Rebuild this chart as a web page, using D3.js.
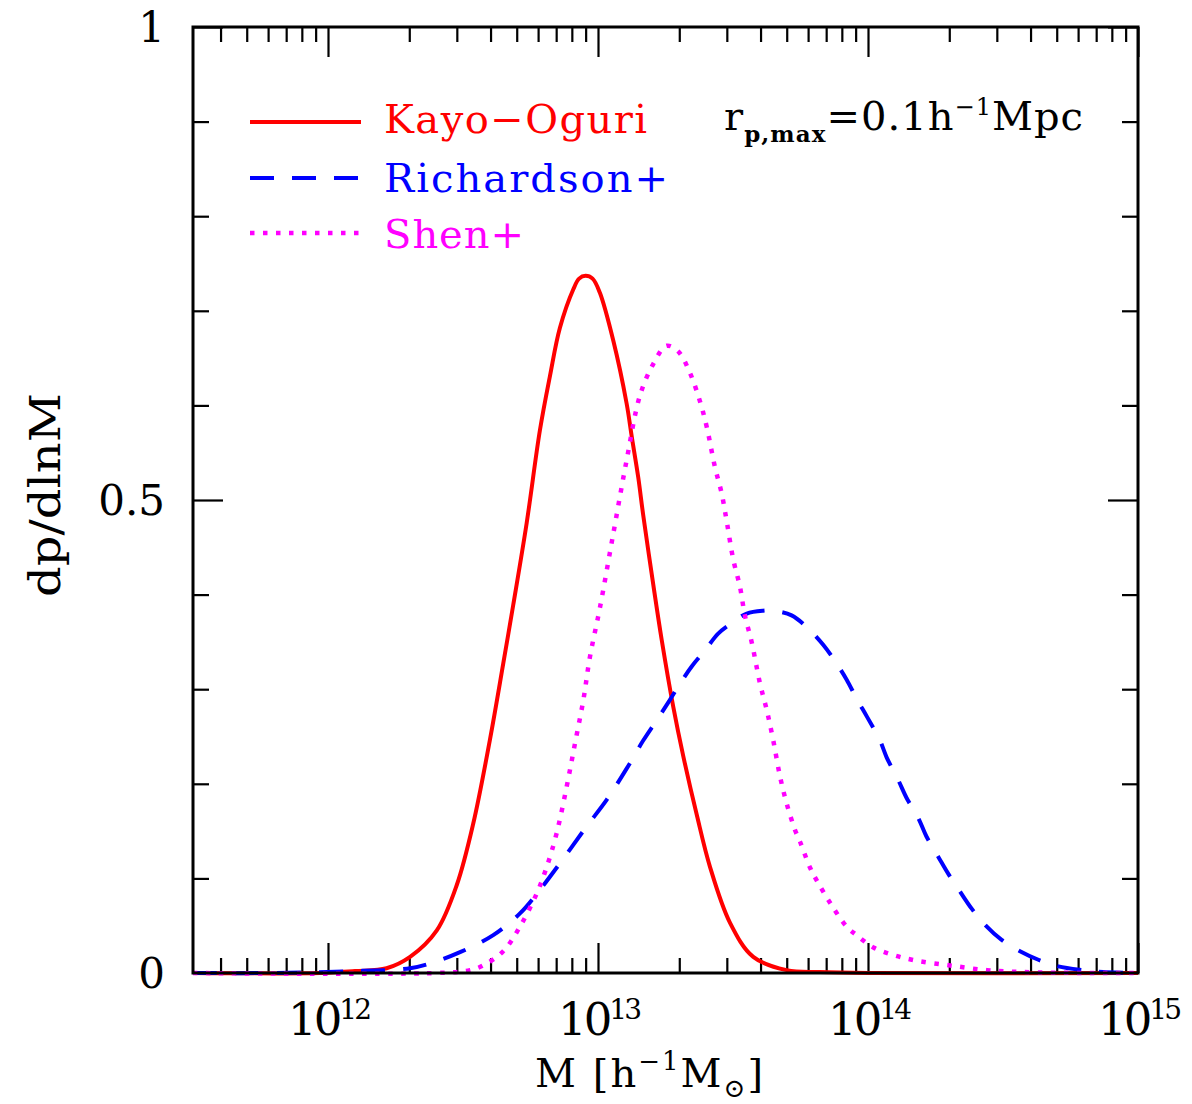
<!DOCTYPE html>
<html><head><meta charset="utf-8">
<script src="https://cdn.jsdelivr.net/npm/d3@7"></script>
<style>
html,body{margin:0;padding:0;background:#fff;}
svg text{font-family:"DejaVu Serif",serif;}
</style></head>
<body>
<svg id="c" width="1192" height="1104"></svg>
<script>
// ---- data (log10 of M [h^-1 Msun], dp/dlnM) ----
const kayoLogM = [11.5,11.97,12.10,12.217,12.304,12.403,12.477,12.538,12.600,12.649,12.686,12.736,12.785,12.822,12.859,12.909,12.93,12.954,12.98,13.007,13.057,13.106,13.125,13.149,13.167,13.205,13.236,13.279,13.316,13.366,13.415,13.489,13.575,13.699,13.822,14.0,15.0];
const kayoP    = [0,0.0,0.002,0.005,0.017,0.045,0.093,0.158,0.247,0.327,0.389,0.476,0.574,0.631,0.682,0.723,0.734,0.737,0.734,0.719,0.668,0.602,0.567,0.524,0.485,0.410,0.352,0.281,0.229,0.167,0.112,0.053,0.017,0.003,0.001,0,0];

const richLogM = [11.5,11.8,12.1,12.304,12.378,12.489,12.612,12.711,12.785,12.859,12.958,13.032,13.106,13.168,13.217,13.267,13.304,13.347,13.396,13.446,13.501,13.551,13.612,13.649,13.717,13.779,13.834,13.884,13.921,13.958,13.996,14.044,14.069,14.112,14.143,14.186,14.217,14.260,14.297,14.341,14.384,14.433,14.495,14.563,14.631,14.705,14.797,14.870,15.0];
const richP    = [0,0,0.002,0.005,0.010,0.022,0.040,0.063,0.088,0.116,0.155,0.183,0.216,0.246,0.267,0.289,0.306,0.324,0.341,0.359,0.371,0.380,0.383,0.383,0.378,0.364,0.347,0.327,0.310,0.290,0.271,0.246,0.228,0.204,0.185,0.164,0.144,0.123,0.105,0.086,0.068,0.051,0.035,0.023,0.014,0.007,0.003,0.001,0];

const shenLogM = [11.5,12.4,12.526,12.575,12.649,12.711,12.773,12.810,12.847,12.884,12.915,12.946,12.970,13.007,13.057,13.106,13.156,13.205,13.254,13.297,13.341,13.378,13.403,13.433,13.458,13.477,13.501,13.526,13.544,13.569,13.600,13.625,13.649,13.674,13.699,13.730,13.748,13.786,13.810,13.860,13.921,13.958,14.020,14.094,14.180,14.304,14.440,14.574,14.8,15.0];
const shenP    = [0,0,0.003,0.008,0.023,0.049,0.084,0.112,0.148,0.197,0.243,0.289,0.334,0.386,0.465,0.542,0.611,0.644,0.663,0.657,0.634,0.604,0.577,0.535,0.507,0.477,0.437,0.408,0.378,0.350,0.306,0.278,0.246,0.208,0.179,0.151,0.139,0.111,0.098,0.074,0.049,0.040,0.027,0.019,0.013,0.008,0.003,0.001,0,0];

const seriesNames  = ["Kayo\u2212Oguri","Richardson+","Shen+"];
const seriesColors = ["#ff0000","#0000ff","#ff00ff"];
const xMajorExps   = [12,13,14,15];
const yMajorVals   = [0,0.5,1];
const yMajorLabels = ["0","0.5","1"];

// ---- layout ----
const svg = d3.select("#c");
const L=193, R=1138, T=27, B=973;
const x = d3.scaleLog().domain([Math.pow(10,11.5),1e15]).range([L,R]);
const y = d3.scaleLinear().domain([0,1]).range([B,T]);

const xMajors = xMajorExps.map(e=>Math.pow(10,e));
const xMinors = [];
for (let e=11;e<15;e++) for (let m=2;m<=9;m++){const v=m*Math.pow(10,e); if(v>=x.domain()[0]&&v<=1e15) xMinors.push(v);}
const yMinors = d3.range(0,1.0001,0.1).map(v=>+v.toFixed(2)).filter(v=>!yMajorVals.includes(v));

function styleAxis(g){g.select(".domain").remove(); g.selectAll("line").attr("stroke","#000").attr("stroke-width",2.2); g.selectAll("text").remove();}
svg.append("g").attr("transform",`translate(0,${B})`).call(d3.axisBottom(x).tickValues(xMajors).tickSize(-30).tickFormat("")).call(styleAxis);
svg.append("g").attr("transform",`translate(0,${B})`).call(d3.axisBottom(x).tickValues(xMinors).tickSize(-15).tickFormat("")).call(styleAxis);
svg.append("g").attr("transform",`translate(0,${T})`).call(d3.axisTop(x).tickValues(xMajors).tickSize(-30).tickFormat("")).call(styleAxis);
svg.append("g").attr("transform",`translate(0,${T})`).call(d3.axisTop(x).tickValues(xMinors).tickSize(-15).tickFormat("")).call(styleAxis);
svg.append("g").attr("transform",`translate(${L},0)`).call(d3.axisLeft(y).tickValues(yMajorVals).tickSize(-30).tickFormat("")).call(styleAxis);
svg.append("g").attr("transform",`translate(${L},0)`).call(d3.axisLeft(y).tickValues(yMinors).tickSize(-16).tickFormat("")).call(styleAxis);
svg.append("g").attr("transform",`translate(${R},0)`).call(d3.axisRight(y).tickValues(yMajorVals).tickSize(-30).tickFormat("")).call(styleAxis);
svg.append("g").attr("transform",`translate(${R},0)`).call(d3.axisRight(y).tickValues(yMinors).tickSize(-16).tickFormat("")).call(styleAxis);

// curves
const line = d3.line().x(d=>x(Math.pow(10,d[0]))).y(d=>Math.min(B,y(d[1]))).curve(d3.curveCatmullRom.alpha(0.5));
const dashes = [null,"24,18","4.5,8.5"];
const data = [[kayoLogM,kayoP],[richLogM,richP],[shenLogM,shenP]];
data.forEach((s,i)=>{
  const pts = s[0].map((v,j)=>[v,s[1][j]]);
  svg.append("path").attr("d",line(pts)).attr("fill","none")
    .attr("stroke",seriesColors[i]).attr("stroke-width",i===2?4.5:4)
    .attr("stroke-dasharray",dashes[i]);
});

// frame
svg.append("rect").attr("x",L).attr("y",T).attr("width",R-L).attr("height",B-T)
  .attr("fill","none").attr("stroke","#000").attr("stroke-width",3);

// x tick labels
xMajorExps.forEach(e=>{
  const t = svg.append("text").attr("x",x(Math.pow(10,e))+2).attr("y",1035).attr("text-anchor","middle").attr("fill","#000")
    .attr("textLength",84).attr("lengthAdjust","spacing");
  t.append("tspan").attr("font-size",45).text("10");
  t.append("tspan").attr("font-size",28).attr("dy",-16).text(String(e));
});
// y tick labels
yMajorVals.forEach((v,i)=>{
  svg.append("text").attr("x",165).attr("y",y(v)).attr("dy","0.36em").attr("text-anchor","end")
    .attr("font-size",42).attr("fill","#000").text(yMajorLabels[i]);
});

// axis titles
const xt = svg.append("text").attr("x",535).attr("y",1087).attr("fill","#000").attr("font-size",40)
  .attr("textLength",228).attr("lengthAdjust","spacing");
xt.append("tspan").text("M [h");
xt.append("tspan").attr("font-size",26).attr("dy",-17).text("\u22121");
xt.append("tspan").attr("dy",17).text("M");
xt.append("tspan").attr("font-size",26).attr("dy",10).text("\u2299");
xt.append("tspan").attr("dy",-10).text("]");

svg.append("text").attr("transform","translate(60,495) rotate(-90)").attr("text-anchor","middle")
  .attr("font-size",42).attr("fill","#000").attr("textLength",204).attr("lengthAdjust","spacingAndGlyphs").text("dp/dlnM");

// legend
const legY = [122,178,233];
const legBase = [133,192,248];
const legLen = [263,284,140];
seriesNames.forEach((n,i)=>{
  svg.append("line").attr("x1",250).attr("x2",361).attr("y1",legY[i]).attr("y2",legY[i])
    .attr("stroke",seriesColors[i]).attr("stroke-width",i===2?4.5:4).attr("stroke-dasharray",dashes[i]);
  svg.append("text").attr("x",384).attr("y",legBase[i]).attr("font-size",40).attr("fill",seriesColors[i])
    .attr("textLength",legLen[i]).attr("lengthAdjust","spacing").text(n);
});

// annotation r_p,max = 0.1 h^-1 Mpc
const an = svg.append("text").attr("x",724).attr("y",130).attr("fill","#000").attr("font-size",40)
  .attr("textLength",359).attr("lengthAdjust","spacing");
an.append("tspan").text("r");
an.append("tspan").attr("font-size",23).attr("font-weight","bold").attr("dy",12).text("p,max");
an.append("tspan").attr("dy",-12).text("=0.1h");
an.append("tspan").attr("font-size",24).attr("dy",-15).text("\u22121");
an.append("tspan").attr("dy",15).text("Mpc");
</script>
</body></html>
